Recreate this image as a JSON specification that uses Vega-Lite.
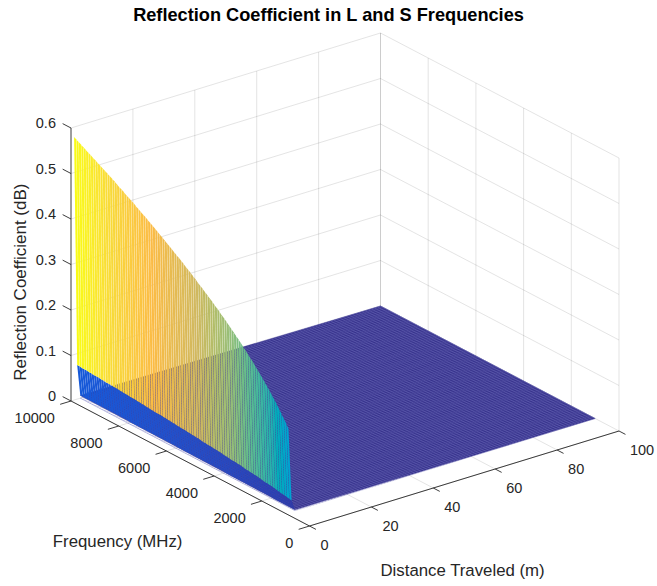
{
"$schema":"https://vega.github.io/schema/vega-lite/v6.json",
"width":657,"height":556,"autosize":"none","padding":{"top":30,"left":0,"right":0,"bottom":0},
"background":"white",
"title":{"text":"Reflection Coefficient in L and S Frequencies","font":"Liberation Sans","fontSize":18.2,"fontWeight":"bold","color":"#000000","anchor":"middle","offset":5},
"config":{"view":{"stroke":null}},
"datasets":{
"wall":[{"f":1000,"a":0.183,"b":0.024,"c":0.002},{"f":1100,"a":0.192,"b":0.025,"c":0.002},{"f":1200,"a":0.2,"b":0.026,"c":0.002},{"f":1300,"a":0.208,"b":0.027,"c":0.002},{"f":1400,"a":0.216,"b":0.028,"c":0.002},{"f":1500,"a":0.224,"b":0.029,"c":0.002},{"f":1600,"a":0.231,"b":0.03,"c":0.002},{"f":1700,"a":0.238,"b":0.031,"c":0.002},{"f":1800,"a":0.245,"b":0.032,"c":0.002},{"f":1900,"a":0.252,"b":0.033,"c":0.002},{"f":2000,"a":0.258,"b":0.034,"c":0.003},{"f":2100,"a":0.265,"b":0.034,"c":0.003},{"f":2200,"a":0.271,"b":0.035,"c":0.003},{"f":2300,"a":0.277,"b":0.036,"c":0.003},{"f":2400,"a":0.283,"b":0.037,"c":0.003},{"f":2500,"a":0.289,"b":0.038,"c":0.003},{"f":2600,"a":0.295,"b":0.038,"c":0.003},{"f":2700,"a":0.3,"b":0.039,"c":0.003},{"f":2800,"a":0.306,"b":0.04,"c":0.003},{"f":2900,"a":0.311,"b":0.04,"c":0.003},{"f":3000,"a":0.317,"b":0.041,"c":0.003},{"f":3100,"a":0.322,"b":0.042,"c":0.003},{"f":3200,"a":0.327,"b":0.043,"c":0.003},{"f":3300,"a":0.332,"b":0.043,"c":0.003},{"f":3400,"a":0.337,"b":0.044,"c":0.003},{"f":3500,"a":0.342,"b":0.044,"c":0.003},{"f":3600,"a":0.347,"b":0.045,"c":0.003},{"f":3700,"a":0.352,"b":0.046,"c":0.003},{"f":3800,"a":0.356,"b":0.046,"c":0.003},{"f":3900,"a":0.361,"b":0.047,"c":0.003},{"f":4000,"a":0.366,"b":0.048,"c":0.004},{"f":4100,"a":0.37,"b":0.048,"c":0.004},{"f":4200,"a":0.375,"b":0.049,"c":0.004},{"f":4300,"a":0.379,"b":0.049,"c":0.004},{"f":4400,"a":0.383,"b":0.05,"c":0.004},{"f":4500,"a":0.388,"b":0.05,"c":0.004},{"f":4600,"a":0.392,"b":0.051,"c":0.004},{"f":4700,"a":0.396,"b":0.051,"c":0.004},{"f":4800,"a":0.4,"b":0.052,"c":0.004},{"f":4900,"a":0.405,"b":0.053,"c":0.004},{"f":5000,"a":0.409,"b":0.053,"c":0.004},{"f":5100,"a":0.413,"b":0.054,"c":0.004},{"f":5200,"a":0.417,"b":0.054,"c":0.004},{"f":5300,"a":0.421,"b":0.055,"c":0.004},{"f":5400,"a":0.425,"b":0.055,"c":0.004},{"f":5500,"a":0.429,"b":0.056,"c":0.004},{"f":5600,"a":0.433,"b":0.056,"c":0.004},{"f":5700,"a":0.436,"b":0.057,"c":0.004},{"f":5800,"a":0.44,"b":0.057,"c":0.004},{"f":5900,"a":0.444,"b":0.058,"c":0.004},{"f":6000,"a":0.448,"b":0.058,"c":0.005},{"f":6100,"a":0.451,"b":0.059,"c":0.005},{"f":6200,"a":0.455,"b":0.059,"c":0.005},{"f":6300,"a":0.459,"b":0.06,"c":0.005},{"f":6400,"a":0.462,"b":0.06,"c":0.005},{"f":6500,"a":0.466,"b":0.061,"c":0.005},{"f":6600,"a":0.47,"b":0.061,"c":0.005},{"f":6700,"a":0.473,"b":0.061,"c":0.005},{"f":6800,"a":0.477,"b":0.062,"c":0.005},{"f":6900,"a":0.48,"b":0.062,"c":0.005},{"f":7000,"a":0.484,"b":0.063,"c":0.005},{"f":7100,"a":0.487,"b":0.063,"c":0.005},{"f":7200,"a":0.49,"b":0.064,"c":0.005},{"f":7300,"a":0.494,"b":0.064,"c":0.005},{"f":7400,"a":0.497,"b":0.065,"c":0.005},{"f":7500,"a":0.501,"b":0.065,"c":0.005},{"f":7600,"a":0.504,"b":0.066,"c":0.005},{"f":7700,"a":0.507,"b":0.066,"c":0.005},{"f":7800,"a":0.51,"b":0.066,"c":0.005},{"f":7900,"a":0.514,"b":0.067,"c":0.005},{"f":8000,"a":0.517,"b":0.067,"c":0.006},{"f":8100,"a":0.52,"b":0.068,"c":0.006},{"f":8200,"a":0.523,"b":0.068,"c":0.006},{"f":8300,"a":0.527,"b":0.069,"c":0.006},{"f":8400,"a":0.53,"b":0.069,"c":0.006},{"f":8500,"a":0.533,"b":0.069,"c":0.006},{"f":8600,"a":0.536,"b":0.07,"c":0.006},{"f":8700,"a":0.539,"b":0.07,"c":0.006},{"f":8800,"a":0.542,"b":0.07,"c":0.006},{"f":8900,"a":0.545,"b":0.071,"c":0.006},{"f":9000,"a":0.548,"b":0.071,"c":0.006},{"f":9100,"a":0.551,"b":0.072,"c":0.006},{"f":9200,"a":0.554,"b":0.072,"c":0.006},{"f":9300,"a":0.557,"b":0.072,"c":0.006},{"f":9400,"a":0.56,"b":0.073,"c":0.006},{"f":9500,"a":0.563,"b":0.073,"c":0.006},{"f":9600,"a":0.566,"b":0.074,"c":0.006},{"f":9700,"a":0.569,"b":0.074,"c":0.006},{"f":9800,"a":0.572,"b":0.074,"c":0.006},{"f":9900,"a":0.575,"b":0.075,"c":0.006},{"f":10000,"a":0.578,"b":0.075,"c":0.006}],
"floor":[{"d":3,"f":1000,"z":0.002,"o":1},{"d":100,"f":1000,"z":0,"o":2},{"d":100,"f":10000,"z":0,"o":3},{"d":3,"f":10000,"z":0.006,"o":4},{"d":3,"f":1000,"z":0.002,"o":5}],
"rows":[{"d":3},{"d":4},{"d":5},{"d":6},{"d":7},{"d":8},{"d":9},{"d":10},{"d":11},{"d":12},{"d":13},{"d":14},{"d":15},{"d":16},{"d":17},{"d":18},{"d":19},{"d":20},{"d":21},{"d":22},{"d":23},{"d":24},{"d":25},{"d":26},{"d":27},{"d":28},{"d":29},{"d":30},{"d":31},{"d":32},{"d":33},{"d":34},{"d":35},{"d":36},{"d":37},{"d":38},{"d":39},{"d":40},{"d":41},{"d":42},{"d":43},{"d":44},{"d":45},{"d":46},{"d":47},{"d":48},{"d":49},{"d":50},{"d":51},{"d":52},{"d":53},{"d":54},{"d":55},{"d":56},{"d":57},{"d":58},{"d":59},{"d":60},{"d":61},{"d":62},{"d":63},{"d":64},{"d":65},{"d":66},{"d":67},{"d":68},{"d":69},{"d":70},{"d":71},{"d":72},{"d":73},{"d":74},{"d":75},{"d":76},{"d":77},{"d":78},{"d":79},{"d":80},{"d":81},{"d":82},{"d":83},{"d":84},{"d":85},{"d":86},{"d":87},{"d":88},{"d":89},{"d":90},{"d":91},{"d":92},{"d":93},{"d":94},{"d":95},{"d":96},{"d":97},{"d":98},{"d":99},{"d":100}],
"grid":[
{"d1":20,"f1":10000,"z1":0,"d2":20,"f2":10000,"z2":0.6},{"d1":40,"f1":10000,"z1":0,"d2":40,"f2":10000,"z2":0.6},{"d1":60,"f1":10000,"z1":0,"d2":60,"f2":10000,"z2":0.6},{"d1":80,"f1":10000,"z1":0,"d2":80,"f2":10000,"z2":0.6},{"d1":100,"f1":10000,"z1":0,"d2":100,"f2":10000,"z2":0.6},
{"d1":0,"f1":10000,"z1":0,"d2":100,"f2":10000,"z2":0},{"d1":0,"f1":10000,"z1":0.1,"d2":100,"f2":10000,"z2":0.1},{"d1":0,"f1":10000,"z1":0.2,"d2":100,"f2":10000,"z2":0.2},{"d1":0,"f1":10000,"z1":0.3,"d2":100,"f2":10000,"z2":0.3},{"d1":0,"f1":10000,"z1":0.4,"d2":100,"f2":10000,"z2":0.4},{"d1":0,"f1":10000,"z1":0.5,"d2":100,"f2":10000,"z2":0.5},{"d1":0,"f1":10000,"z1":0.6,"d2":100,"f2":10000,"z2":0.6},
{"d1":100,"f1":0,"z1":0,"d2":100,"f2":0,"z2":0.6},{"d1":100,"f1":2000,"z1":0,"d2":100,"f2":2000,"z2":0.6},{"d1":100,"f1":4000,"z1":0,"d2":100,"f2":4000,"z2":0.6},{"d1":100,"f1":6000,"z1":0,"d2":100,"f2":6000,"z2":0.6},{"d1":100,"f1":8000,"z1":0,"d2":100,"f2":8000,"z2":0.6},{"d1":100,"f1":10000,"z1":0,"d2":100,"f2":10000,"z2":0.6},
{"d1":100,"f1":0,"z1":0,"d2":100,"f2":10000,"z2":0},{"d1":100,"f1":0,"z1":0.1,"d2":100,"f2":10000,"z2":0.1},{"d1":100,"f1":0,"z1":0.2,"d2":100,"f2":10000,"z2":0.2},{"d1":100,"f1":0,"z1":0.3,"d2":100,"f2":10000,"z2":0.3},{"d1":100,"f1":0,"z1":0.4,"d2":100,"f2":10000,"z2":0.4},{"d1":100,"f1":0,"z1":0.5,"d2":100,"f2":10000,"z2":0.5},{"d1":100,"f1":0,"z1":0.6,"d2":100,"f2":10000,"z2":0.6},
{"d1":0,"f1":0,"z1":0,"d2":0,"f2":10000,"z2":0},{"d1":20,"f1":0,"z1":0,"d2":20,"f2":10000,"z2":0},{"d1":40,"f1":0,"z1":0,"d2":40,"f2":10000,"z2":0},{"d1":60,"f1":0,"z1":0,"d2":60,"f2":10000,"z2":0},{"d1":80,"f1":0,"z1":0,"d2":80,"f2":10000,"z2":0},
{"d1":0,"f1":0,"z1":0,"d2":100,"f2":0,"z2":0},{"d1":0,"f1":2000,"z1":0,"d2":100,"f2":2000,"z2":0},{"d1":0,"f1":4000,"z1":0,"d2":100,"f2":4000,"z2":0},{"d1":0,"f1":6000,"z1":0,"d2":100,"f2":6000,"z2":0},{"d1":0,"f1":8000,"z1":0,"d2":100,"f2":8000,"z2":0}],
"axes":[
{"d1":0,"f1":10000,"z1":0,"d2":0,"f2":10000,"z2":0.6},{"d1":0,"f1":10000,"z1":0,"d2":0,"f2":0,"z2":0},{"d1":0,"f1":0,"z1":0,"d2":100,"f2":0,"z2":0},
{"d1":0,"f1":10000,"z1":0,"d2":0,"f2":10350,"z2":0},{"d1":0,"f1":10000,"z1":0.1,"d2":0,"f2":10350,"z2":0.1},{"d1":0,"f1":10000,"z1":0.2,"d2":0,"f2":10350,"z2":0.2},{"d1":0,"f1":10000,"z1":0.3,"d2":0,"f2":10350,"z2":0.3},{"d1":0,"f1":10000,"z1":0.4,"d2":0,"f2":10350,"z2":0.4},{"d1":0,"f1":10000,"z1":0.5,"d2":0,"f2":10350,"z2":0.5},{"d1":0,"f1":10000,"z1":0.6,"d2":0,"f2":10350,"z2":0.6},
{"d1":0,"f1":0,"z1":0,"d2":-3.5,"f2":0,"z2":0},{"d1":0,"f1":2000,"z1":0,"d2":-3.5,"f2":2000,"z2":0},{"d1":0,"f1":4000,"z1":0,"d2":-3.5,"f2":4000,"z2":0},{"d1":0,"f1":6000,"z1":0,"d2":-3.5,"f2":6000,"z2":0},{"d1":0,"f1":8000,"z1":0,"d2":-3.5,"f2":8000,"z2":0},{"d1":0,"f1":10000,"z1":0,"d2":-3.5,"f2":10000,"z2":0},
{"d1":0,"f1":0,"z1":0,"d2":0,"f2":-270,"z2":0},{"d1":20,"f1":0,"z1":0,"d2":20,"f2":-270,"z2":0},{"d1":40,"f1":0,"z1":0,"d2":40,"f2":-270,"z2":0},{"d1":60,"f1":0,"z1":0,"d2":60,"f2":-270,"z2":0},{"d1":80,"f1":0,"z1":0,"d2":80,"f2":-270,"z2":0},{"d1":100,"f1":0,"z1":0,"d2":100,"f2":-270,"z2":0}],
"zlabels":[{"t":"0","d":0,"f":10630,"z":-0.0086},{"t":"0.1","d":0,"f":10630,"z":0.0914},{"t":"0.2","d":0,"f":10630,"z":0.1914},{"t":"0.3","d":0,"f":10630,"z":0.2914},{"t":"0.4","d":0,"f":10630,"z":0.3914},{"t":"0.5","d":0,"f":10630,"z":0.4914},{"t":"0.6","d":0,"f":10630,"z":0.5914},
{"t":"0","d":-5.2,"f":0,"z":-0.0286},{"t":"2000","d":-5.2,"f":2000,"z":-0.0286},{"t":"4000","d":-5.2,"f":4000,"z":-0.0286},{"t":"6000","d":-5.2,"f":6000,"z":-0.0286},{"t":"8000","d":-5.2,"f":8000,"z":-0.0286},{"t":"10000","d":-5.2,"f":10000,"z":-0.0286}],
"dlabels":[{"t":"0","d":0,"f":-461,"z":-0.0323},{"t":"20","d":20,"f":-461,"z":-0.0323},{"t":"40","d":40,"f":-461,"z":-0.0323},{"t":"60","d":60,"f":-461,"z":-0.0323},{"t":"80","d":80,"f":-461,"z":-0.0323},{"t":"100","d":100,"f":-461,"z":-0.0323}],
"titles":[{"t":"Frequency (MHz)","d":-45.3,"f":2167,"z":0},{"t":"Distance Traveled (m)","d":13.7,"f":-4639,"z":0}],
"ztitle":[{"t":"Reflection Coefficient (dB)","d":0,"f":12096,"z":0.2037}]
},
"layer":[
{"data":{"name":"grid"},
 "transform":[{"calculate":"71+3.095*datum.d1+0.02385*(10000-datum.f1)","as":"x1"},{"calculate":"401-0.95*datum.d1+0.0125*(10000-datum.f1)-455*datum.z1","as":"y1"},{"calculate":"71+3.095*datum.d2+0.02385*(10000-datum.f2)","as":"x2"},{"calculate":"401-0.95*datum.d2+0.0125*(10000-datum.f2)-455*datum.z2","as":"y2"}],
 "mark":{"type":"rule","stroke":"#262626","strokeOpacity":0.14,"strokeWidth":0.9},
 "encoding":{"x":{"field":"x1","type":"quantitative","scale":{"domain":[0,657],"nice":false,"zero":false},"axis":null},"y":{"field":"y1","type":"quantitative","scale":{"domain":[586,30],"nice":false,"zero":false},"axis":null},"x2":{"field":"x2"},"y2":{"field":"y2"}}},
{"data":{"name":"axes"},
 "transform":[{"calculate":"71+3.095*datum.d1+0.02385*(10000-datum.f1)","as":"x1"},{"calculate":"401-0.95*datum.d1+0.0125*(10000-datum.f1)-455*datum.z1","as":"y1"},{"calculate":"71+3.095*datum.d2+0.02385*(10000-datum.f2)","as":"x2"},{"calculate":"401-0.95*datum.d2+0.0125*(10000-datum.f2)-455*datum.z2","as":"y2"}],
 "mark":{"type":"rule","stroke":"#262626","strokeWidth":0.9},
 "encoding":{"x":{"field":"x1","type":"quantitative","scale":{"domain":[0,657],"nice":false,"zero":false},"axis":null},"y":{"field":"y1","type":"quantitative","scale":{"domain":[586,30],"nice":false,"zero":false},"axis":null},"x2":{"field":"x2"},"y2":{"field":"y2"}}},
{"data":{"name":"floor"},
 "transform":[{"calculate":"71+3.095*datum.d+0.02385*(10000-datum.f)","as":"x1"},{"calculate":"401-0.95*datum.d+0.0125*(10000-datum.f)-455*datum.z","as":"y1"}],
 "mark":{"type":"line","fill":"#39348e","stroke":"#39348e","strokeWidth":0.4},
 "encoding":{"x":{"field":"x1","type":"quantitative","scale":{"domain":[0,657],"nice":false,"zero":false},"axis":null},"y":{"field":"y1","type":"quantitative","scale":{"domain":[586,30],"nice":false,"zero":false},"axis":null},"order":{"field":"o","type":"ordinal"}}},
{"data":{"name":"rows"},
 "transform":[{"calculate":"71+3.095*datum.d+0.02385*9000","as":"x1"},{"calculate":"401-0.95*datum.d+0.0125*9000","as":"y1"},{"calculate":"71+3.095*datum.d","as":"x2"},{"calculate":"401-0.95*datum.d","as":"y2"}],
 "mark":{"type":"rule","stroke":"#7070bc","strokeWidth":0.6,"strokeOpacity":0.8},
 "encoding":{"x":{"field":"x1","type":"quantitative","scale":{"domain":[0,657],"nice":false,"zero":false},"axis":null},"y":{"field":"y1","type":"quantitative","scale":{"domain":[586,30],"nice":false,"zero":false},"axis":null},"x2":{"field":"x2"},"y2":{"field":"y2"}}},
{"data":{"name":"wall"},
 "transform":[{"calculate":"71+3.095*3+0.02385*(10000-datum.f)","as":"x1"},{"calculate":"401-0.95*3+0.0125*(10000-datum.f)","as":"y1"},{"calculate":"71+3.095*100+0.02385*(10000-datum.f)","as":"x2"},{"calculate":"401-0.95*100+0.0125*(10000-datum.f)","as":"y2"}],
 "mark":{"type":"rule","stroke":"#6666b4","strokeWidth":0.5,"strokeOpacity":0.6},
 "encoding":{"x":{"field":"x1","type":"quantitative","scale":{"domain":[0,657],"nice":false,"zero":false},"axis":null},"y":{"field":"y1","type":"quantitative","scale":{"domain":[586,30],"nice":false,"zero":false},"axis":null},"x2":{"field":"x2"},"y2":{"field":"y2"}}},
{"data":{"name":"wall"},
 "transform":[{"window":[{"op":"lead","field":"b","as":"bn"},{"op":"lead","field":"c","as":"cn"}],"sort":[{"field":"f","order":"ascending"}]},{"filter":"datum.bn!=null"},{"calculate":"[0,1,2,3]","as":"k"},{"flatten":["k"]},
 {"calculate":"datum.k==0||datum.k==3?datum.f+4:datum.f+100","as":"ff"},
 {"calculate":"datum.k<2?2:3","as":"dd"},
 {"calculate":"datum.k==0?datum.b:datum.k==1?datum.bn:datum.k==2?datum.cn:datum.c","as":"zz"},
 {"calculate":"71+3.095*datum.dd+0.02385*(10000-datum.ff)","as":"x1"},{"calculate":"401-0.95*datum.dd+0.0125*(10000-datum.ff)-455*datum.zz","as":"y1"}],
 "mark":{"type":"line","strokeWidth":0},
 "encoding":{"x":{"field":"x1","type":"quantitative","scale":{"domain":[0,657],"nice":false,"zero":false},"axis":null},"y":{"field":"y1","type":"quantitative","scale":{"domain":[586,30],"nice":false,"zero":false},"axis":null},"detail":{"field":"f"},"order":{"field":"k","type":"ordinal"},
 "fill":{"field":"bn","type":"quantitative","legend":null,"scale":{"domain":[0,0.03,0.08,0.195,0.245,0.307,0.35,0.406,0.477,0.532,0.578],"range":["#352a87","#2c3fb0","#0f5cdd","#0ea5d0","#20b0b0","#62bd8d","#9dbe75","#d0b85f","#fbbb45","#f8d83a","#f9fb15"]}}}},
{"data":{"name":"wall"},
 "transform":[{"window":[{"op":"lead","field":"a","as":"an"},{"op":"lead","field":"b","as":"bn"}],"sort":[{"field":"f","order":"ascending"}]},{"filter":"datum.an!=null"},{"calculate":"[0,1,2,3]","as":"k"},{"flatten":["k"]},
 {"calculate":"datum.k==0||datum.k==3?datum.f+12:datum.f+100","as":"ff"},
 {"calculate":"datum.k<2?1:2","as":"dd"},
 {"calculate":"datum.k==0?datum.a+0.12*(datum.an-datum.a):datum.k==1?datum.an:datum.k==2?datum.bn:datum.b+0.12*(datum.bn-datum.b)","as":"zz"},
 {"calculate":"71+3.095*datum.dd+0.02385*(10000-datum.ff)","as":"x1"},{"calculate":"401-0.95*datum.dd+0.0125*(10000-datum.ff)-455*datum.zz","as":"y1"}],
 "mark":{"type":"line","strokeWidth":0},
 "encoding":{"x":{"field":"x1","type":"quantitative","scale":{"domain":[0,657],"nice":false,"zero":false},"axis":null},"y":{"field":"y1","type":"quantitative","scale":{"domain":[586,30],"nice":false,"zero":false},"axis":null},"detail":{"field":"f"},"order":{"field":"k","type":"ordinal"},
 "fill":{"field":"an","type":"quantitative","legend":null,"scale":{"domain":[0,0.03,0.08,0.195,0.245,0.307,0.35,0.406,0.477,0.532,0.578],"range":["#352a87","#2c3fb0","#0f5cdd","#0ea5d0","#20b0b0","#62bd8d","#9dbe75","#d0b85f","#fbbb45","#f8d83a","#f9fb15"]}}}},
{"data":{"name":"zlabels"},
 "transform":[{"calculate":"71+3.095*datum.d+0.02385*(10000-datum.f)","as":"x1"},{"calculate":"401-0.95*datum.d+0.0125*(10000-datum.f)-455*datum.z","as":"y1"}],
 "mark":{"type":"text","font":"Liberation Sans","fontSize":14.5,"align":"right","baseline":"middle","color":"#262626"},
 "encoding":{"x":{"field":"x1","type":"quantitative","scale":{"domain":[0,657],"nice":false,"zero":false},"axis":null},"y":{"field":"y1","type":"quantitative","scale":{"domain":[586,30],"nice":false,"zero":false},"axis":null},"text":{"field":"t"}}},
{"data":{"name":"dlabels"},
 "transform":[{"calculate":"71+3.095*datum.d+0.02385*(10000-datum.f)","as":"x1"},{"calculate":"401-0.95*datum.d+0.0125*(10000-datum.f)-455*datum.z","as":"y1"}],
 "mark":{"type":"text","font":"Liberation Sans","fontSize":14.5,"align":"left","baseline":"middle","color":"#262626"},
 "encoding":{"x":{"field":"x1","type":"quantitative","scale":{"domain":[0,657],"nice":false,"zero":false},"axis":null},"y":{"field":"y1","type":"quantitative","scale":{"domain":[586,30],"nice":false,"zero":false},"axis":null},"text":{"field":"t"}}},
{"data":{"name":"titles"},
 "transform":[{"calculate":"71+3.095*datum.d+0.02385*(10000-datum.f)","as":"x1"},{"calculate":"401-0.95*datum.d+0.0125*(10000-datum.f)-455*datum.z","as":"y1"}],
 "mark":{"type":"text","font":"Liberation Sans","fontSize":16.8,"align":"center","baseline":"middle","color":"#262626"},
 "encoding":{"x":{"field":"x1","type":"quantitative","scale":{"domain":[0,657],"nice":false,"zero":false},"axis":null},"y":{"field":"y1","type":"quantitative","scale":{"domain":[586,30],"nice":false,"zero":false},"axis":null},"text":{"field":"t"}}},
{"data":{"name":"ztitle"},
 "transform":[{"calculate":"71+3.095*datum.d+0.02385*(10000-datum.f)","as":"x1"},{"calculate":"401-0.95*datum.d+0.0125*(10000-datum.f)-455*datum.z","as":"y1"}],
 "mark":{"type":"text","font":"Liberation Sans","fontSize":17,"align":"center","baseline":"middle","angle":270,"color":"#262626"},
 "encoding":{"x":{"field":"x1","type":"quantitative","scale":{"domain":[0,657],"nice":false,"zero":false},"axis":null},"y":{"field":"y1","type":"quantitative","scale":{"domain":[586,30],"nice":false,"zero":false},"axis":null},"text":{"field":"t"}}}
],
"resolve":{"scale":{"fill":"shared"}}
}
